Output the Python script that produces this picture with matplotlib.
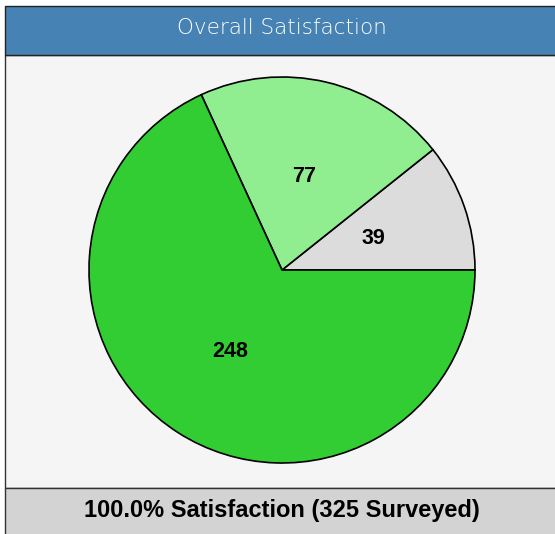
import matplotlib
matplotlib.use("Agg")
import matplotlib.pyplot as plt
from matplotlib.patches import Rectangle

# Data
labels = ["39", "77", "248"]
values = [39, 77, 248]
colors = ["#dcdcdc", "#90ee90", "#32cd32"]
title = "Overall Satisfaction"
footer = "100.0% Satisfaction (325 Surveyed)"

W, H = 555, 534
fig = plt.figure(figsize=(W / 100, H / 100), dpi=100)
fig.patch.set_facecolor("white")

def fx(x):
    return x / W

def fy(y):
    return 1 - y / H

# panel background
fig.patches.append(Rectangle((fx(5), fy(488)), fx(560) - fx(5), fy(55) - fy(488),
                             transform=fig.transFigure, facecolor="#f5f5f5",
                             edgecolor="#333333", linewidth=1.0, zorder=-3))
# header
fig.patches.append(Rectangle((fx(5), fy(55)), fx(560) - fx(5), fy(6) - fy(55),
                             transform=fig.transFigure, facecolor="#4682b4",
                             edgecolor="#222222", linewidth=1.0, zorder=-2))
# footer
fig.patches.append(Rectangle((fx(5), fy(540)), fx(560) - fx(5), fy(488) - fy(540),
                             transform=fig.transFigure, facecolor="#d3d3d3",
                             edgecolor="#333333", linewidth=1.0, zorder=-2))

fig.text(fx(282), fy(28), title, ha="center", va="center", color="white",
         fontsize=15.5, family="DejaVu Sans", fontweight="light")
fig.text(fx(282), fy(510), footer, ha="center", va="center", color="black",
         fontsize=17, fontweight="bold", family="Liberation Sans")

cx, cy, r = 282, 270, 193
pad = 1.03
ax = fig.add_axes([fx(cx - r * pad), fy(cy + r * pad), 2 * r * pad / W, 2 * r * pad / H])
ax.set_zorder(5)
ax.patch.set_visible(False)
ax.axis("off")
wedges, texts = ax.pie(values, labels=labels, colors=colors, startangle=0,
                       counterclock=True, labeldistance=0.5, radius=1,
                       wedgeprops=dict(edgecolor="black", linewidth=1.2))
ax.set_xlim(-pad, pad)
ax.set_ylim(-pad, pad)
for t in texts:
    t.set_ha("center")
    t.set_va("center")
    t.set_fontsize(15.5)
    t.set_fontweight("bold")
    t.set_family("Liberation Sans")

fig.savefig("out.png", dpi=100)
